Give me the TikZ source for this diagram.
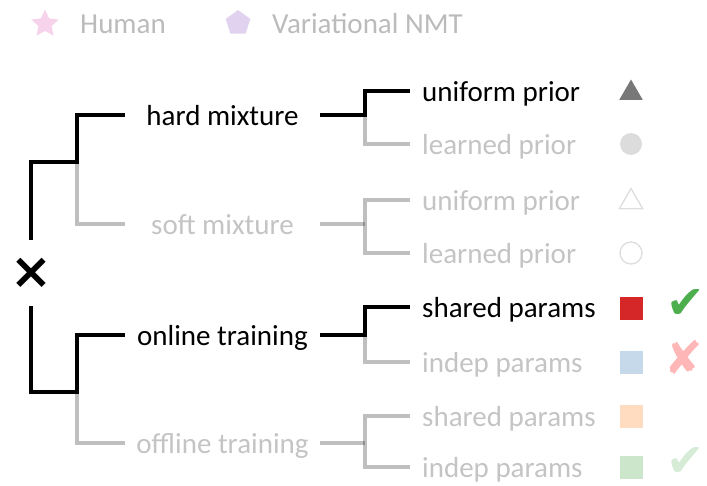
\documentclass[tikz,border=0pt]{standalone}
\usepackage{fontspec}
\setmainfont{Carlito}
\newfontfamily\symbfont{DejaVu Sans}
\usetikzlibrary{shapes.geometric}
\definecolor{fadegray}{HTML}{C4C4C4}
\definecolor{leggray}{HTML}{BBBBBB}
\definecolor{starpink}{HTML}{F6D3EA}
\definecolor{pentpurple}{HTML}{E1D2EF}
\definecolor{tridark}{HTML}{787878}
\definecolor{dotgray}{HTML}{DCDCDC}
\definecolor{outgray}{HTML}{DDDDDD}
\definecolor{sqred}{HTML}{D62728}
\definecolor{sqblue}{HTML}{C5D9EA}
\definecolor{sqorange}{HTML}{FFDCBF}
\definecolor{sqgreen}{HTML}{CCE6CC}
\definecolor{okgreen}{HTML}{4CAE4C}
\definecolor{badred}{HTML}{FFB6B6}
\definecolor{okpale}{HTML}{D6ECD6}
\tikzset{
  on/.style={line width=4pt, black},
  off/.style={line width=4pt, black, opacity=0.25},
  midnode/.style={minimum width=195pt, inner sep=0pt, text height=23pt, text depth=2pt},
  leafnode/.style={anchor=west, inner xsep=12pt, inner ysep=0pt, text height=23pt, text depth=2pt},
  legnode/.style={anchor=west, inner sep=0pt, text=leggray, text height=23pt, text depth=2pt},
  faded/.style={text=fadegray},
  tri/.style={regular polygon, regular polygon sides=3, minimum size=27pt, inner sep=0pt},
  dot/.style={circle, minimum size=22pt, inner sep=0pt},
  sq/.style={rectangle, minimum size=23pt, inner sep=0pt},
  tick/.style={inner sep=0pt, text height=24pt, text depth=0pt, font=\symbfont\fontsize{46}{46}\selectfont}
}
\begin{document}
\begin{tikzpicture}[x=1pt, y=-1pt, font=\fontsize{29}{34}\selectfont, line join=miter]
  \useasboundingbox (0,0) rectangle (707,485);
  % legend
  \node[star, star points=5, star point ratio=2.1, fill=starpink, minimum size=29pt, inner sep=0pt] (hstar) at (45,24) {};
  \node[legnode] (hlabel) at (80,23) {Human};
  \node[regular polygon, regular polygon sides=5, fill=pentpurple, minimum size=26pt, inner sep=0pt] (vpent) at (238,23) {};
  \node[legnode] (vlabel) at (272,23) {Variational NMT};

  % root and junctions
  \node[inner sep=0pt, minimum height=66pt, font=\symbfont\bfseries\fontsize{50}{50}\selectfont] (root) at (31,273) {×};
  \coordinate (j1) at (77,162);
  \coordinate (j2) at (77,392);

  % second level
  \node[midnode] (hard) at (222.5,115) {hard mixture};
  \node[midnode, faded] (soft) at (222.5,224) {soft mixture};
  \node[midnode] (online) at (222.5,335) {online training};
  \node[midnode, faded] (offline) at (222.5,443) {offline training};

  \coordinate (k1) at (365,115);
  \coordinate (k2) at (365,224);
  \coordinate (k3) at (365,335);
  \coordinate (k4) at (365,443);

  % leaves
  \node[leafnode] (up1) at (410,91) {uniform prior};
  \node[leafnode, faded] (lp1) at (410,144) {learned prior};
  \node[leafnode, faded] (up2) at (410,200) {uniform prior};
  \node[leafnode, faded] (lp2) at (410,253) {learned prior};
  \node[leafnode] (sp1) at (410,307) {shared params};
  \node[leafnode, faded] (ip1) at (410,362) {indep params};
  \node[leafnode, faded] (sp2) at (410,416) {shared params};
  \node[leafnode, faded] (ip2) at (410,467) {indep params};

  % markers
  \node[tri, fill=tridark] (m1) at (631,93) {};
  \node[dot, fill=dotgray] (m2) at (631,144) {};
  \node[tri, draw=outgray, line width=1.3pt] (m3) at (631,202) {};
  \node[dot, draw=outgray, line width=1.3pt] (m4) at (631,253) {};
  \node[sq, fill=sqred] (m5) at (631,308) {};
  \node[sq, fill=sqblue] (m6) at (631,362) {};
  \node[sq, fill=sqorange] (m7) at (631,416) {};
  \node[sq, fill=sqgreen] (m8) at (631,467) {};

  \node[tick, text=okgreen] (ok1) at (686,306) {✔};
  \node[tick, text=badred] (bad1) at (684,362) {✘};
  \node[tick, text=okpale] (ok2) at (686,464) {✔};

  % first level connectors
  \draw[on] (root.north) |- (j1) |- (hard.west);
  \draw[off] (j1) |- (soft.west);
  \draw[on] (root.south) |- (j2) |- (online.west);
  \draw[off] (j2) |- (offline.west);

  % second level connectors
  \draw[on] (hard.east) -- (k1) |- (up1.west);
  \draw[off] (k1) |- (lp1.west);
  \draw[off] (soft.east) -- (k2);
  \draw[off] (k2) |- (up2.west);
  \draw[off] (k2) |- (lp2.west);
  \draw[on] (online.east) -- (k3) |- (sp1.west);
  \draw[off] (k3) |- (ip1.west);
  \draw[off] (offline.east) -- (k4);
  \draw[off] (k4) |- (sp2.west);
  \draw[off] (k4) |- (ip2.west);
\end{tikzpicture}
\end{document}
